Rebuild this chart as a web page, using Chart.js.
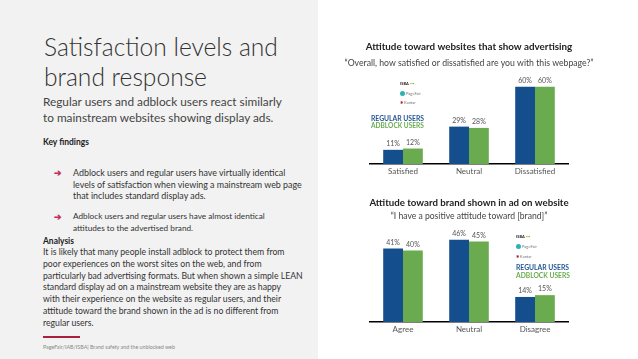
<!DOCTYPE html>
<html>
<head>
<meta charset="utf-8">
<script src="https://cdn.jsdelivr.net/npm/chart.js@4.4.1/dist/chart.umd.min.js"></script>
<style>
  html,body{margin:0;padding:0;width:638px;height:359px;overflow:hidden;background:#fff;font-family:Lato,"Open Sans",sans-serif;color:#333;}
  .abs{position:absolute;white-space:nowrap;}
  #panel{position:absolute;left:0;top:0;width:318px;height:359px;background:#f2f2f2;}
  .leg{font-weight:bold;font-size:7.6px;line-height:8.5px;}
  .logo{font-size:4px;line-height:5px;color:#777;}
</style>
</head>
<body>
<div id="panel"></div>
<div class="abs" data-w="234" style="left:44px;top:32px;font-size:24.5px;line-height:30px;font-weight:300;color:#333;">Satisfaction levels and<br>brand response</div>
<div class="abs" data-w="239" style="left:43px;top:94px;font-size:12px;line-height:16px;color:#444;">Regular users and adblock users react similarly<br>to mainstream websites showing display ads.</div>
<div class="abs" data-w="46" style="left:43px;top:136px;font-size:9.5px;line-height:12px;font-weight:bold;color:#222;">Key findings</div>
<div class="abs" style="left:54px;top:167px;font-size:9px;line-height:11.7px;color:#c22f5a;font-weight:bold;">➔</div>
<div class="abs" data-w="229" style="left:73px;top:167px;font-size:9.3px;line-height:11.7px;color:#333;">Adblock users and regular users have virtually identical<br>levels of satisfaction when viewing a mainstream web page<br>that includes standard display ads.</div>
<div class="abs" style="left:54px;top:211px;font-size:9px;line-height:11.7px;color:#c22f5a;font-weight:bold;">➔</div>
<div class="abs" data-w="192" style="left:73px;top:211px;font-size:9.3px;line-height:11.7px;color:#333;">Adblock users and regular users have almost identical<br>attitudes to the advertised brand.</div>
<div class="abs" data-w="31" style="left:43px;top:235px;font-size:10px;line-height:12px;font-weight:bold;color:#222;">Analysis</div>
<div class="abs" data-w="260" style="left:43px;top:246px;font-size:9px;line-height:11.8px;color:#333;">It is likely that many people install adblock to protect them from<br>poor experiences on the worst sites on the web, and from<br>particularly bad advertising formats. But when shown a simple LEAN<br>standard display ad on a mainstream website they are as happy<br>with their experience on the website as regular users, and their<br>attitude toward the brand shown in the ad is no different from<br>regular users.</div>
<div style="position:absolute;left:43px;top:336px;width:37px;height:1.5px;background:#a8213f;"></div>
<div class="abs" data-w="132" style="left:43px;top:344px;font-size:5px;line-height:6px;color:#888;">PageFair/IAB/ISBA| Brand safety and the unblocked web</div>

<div style="position:absolute;left:330px;top:30px;width:308px;height:160px;"><canvas id="c1" width="308" height="160"></canvas></div>
<div style="position:absolute;left:330px;top:190px;width:308px;height:169px;"><canvas id="c2" width="308" height="169"></canvas></div>

<!-- legend top chart -->
<div class="abs logo" style="left:400px;top:81px;"><b style="color:#222">ISBA</b> <span style="color:#e0a030">•</span><span style="color:#6b3">•</span></div>
<div class="abs logo" style="left:400px;top:91px;"><span style="display:inline-block;width:5px;height:5px;border-radius:50%;background:#2bb3b1;vertical-align:middle"></span> PageFair</div>
<div class="abs logo" style="left:400px;top:100px;"><span style="color:#a22">✱</span> Kantar</div>
<div class="abs leg" data-w="53" style="left:371px;top:113.5px;color:#1f5592;">REGULAR USERS</div>
<div class="abs leg" data-w="53" style="left:371px;top:122px;color:#6aab4f;">ADBLOCK USERS</div>
<!-- legend bottom chart -->
<div class="abs logo" style="left:516px;top:234px;"><b style="color:#222">ISBA</b> <span style="color:#e0a030">•</span><span style="color:#6b3">•</span></div>
<div class="abs logo" style="left:516px;top:244px;"><span style="display:inline-block;width:5px;height:5px;border-radius:50%;background:#2bb3b1;vertical-align:middle"></span> PageFair</div>
<div class="abs logo" style="left:516px;top:254px;"><span style="color:#a22">✱</span> Kantar</div>
<div class="abs leg" data-w="53" style="left:516px;top:262.5px;color:#1f5592;">REGULAR USERS</div>
<div class="abs leg" data-w="54" style="left:516px;top:271px;color:#6aab4f;">ADBLOCK USERS</div>

<script>
// fit text blocks to the widths measured on the reference
document.querySelectorAll('[data-w]').forEach(el => {
  const fs = parseFloat(getComputedStyle(el).fontSize);
  const w = el.getBoundingClientRect().width;
  el.style.fontSize = (fs * parseFloat(el.dataset.w) / w) + 'px';
});

const satisfactionCategories = ["Satisfied", "Neutral", "Dissatisfied"];
const satisfactionRegular = [11, 29, 60];
const satisfactionAdblock = [12, 28, 60];

const brandCategories = ["Agree", "Neutral", "Disagree"];
const brandRegular = [41, 46, 14];
const brandAdblock = [40, 45, 15];

const BLUE = "#144e8c";
const GREEN = "#6aab4f";
const FONT = "Lato";

const valueLabels = {
  id: "valueLabels",
  afterDatasetsDraw(chart) {
    const ctx = chart.ctx;
    ctx.save();
    ctx.font = "7px " + FONT;
    ctx.fillStyle = "#555";
    ctx.textAlign = "center";
    ctx.textBaseline = "middle";
    chart.data.datasets.forEach((ds, i) => {
      chart.getDatasetMeta(i).data.forEach((bar, j) => {
        ctx.fillText(ds.data[j] + "%", bar.x, bar.y - 6);
      });
    });
    ctx.restore();
  }
};

const headings = {
  id: "headings",
  afterDraw(chart, args, opts) {
    const ctx = chart.ctx;
    const cx = (chart.chartArea.left + chart.chartArea.right) / 2;
    ctx.save();
    ctx.textAlign = "center";
    ctx.textBaseline = "middle";
    ctx.fillStyle = "#222";
    ctx.font = "bold " + opts.titleSize + "px " + FONT;
    ctx.fillText(opts.title, cx, opts.titleY);
    ctx.fillStyle = "#444";
    ctx.font = opts.subSize + "px " + FONT;
    ctx.fillText(opts.subtitle, cx, opts.subY);
    ctx.restore();
  }
};

function makeChart(id, labels, reg, adb, title, subtitle, titleY, subY, titleSize, subSize, yMax, pad) {
  return new Chart(document.getElementById(id), {
    type: "bar",
    data: {
      labels: labels,
      datasets: [
        { label: "Regular users", data: reg, backgroundColor: BLUE, categoryPercentage: 0.6, barPercentage: 1.0 },
        { label: "Adblock users", data: adb, backgroundColor: GREEN, categoryPercentage: 0.6, barPercentage: 1.0 }
      ]
    },
    options: {
      responsive: false,
      animation: false,
      layout: { padding: pad },
      plugins: {
        legend: { display: false },
        tooltip: { enabled: false },
        headings: { title: title, subtitle: subtitle, titleY: titleY, subY: subY, titleSize: titleSize, subSize: subSize }
      },
      scales: {
        x: {
          grid: { display: false, drawTicks: false },
          border: { display: true, color: "#000", width: 1.5 },
          ticks: { color: "#555", font: { family: FONT, size: 8 }, padding: 3 }
        },
        y: { display: false, min: 0, max: yMax }
      }
    },
    plugins: [valueLabels, headings]
  });
}

makeChart("c1", satisfactionCategories, satisfactionRegular, satisfactionAdblock,
  "Attitude toward websites that show advertising",
  "\u201COverall, how satisfied or dissatisfied are you with this webpage?\u201D",
  17, 33, 9.8, 8.7, 67.5, { top: 47, left: 40, right: 70, bottom: 10.4 });

makeChart("c2", brandCategories, brandRegular, brandAdblock,
  "Attitude toward brand shown in ad on website",
  "\u201CI have a positive attitude toward [brand]\u201D",
  13, 26, 9.7, 8.6, 51.4, { top: 40, left: 40, right: 70, bottom: 21.4 });
</script>
</body>
</html>
